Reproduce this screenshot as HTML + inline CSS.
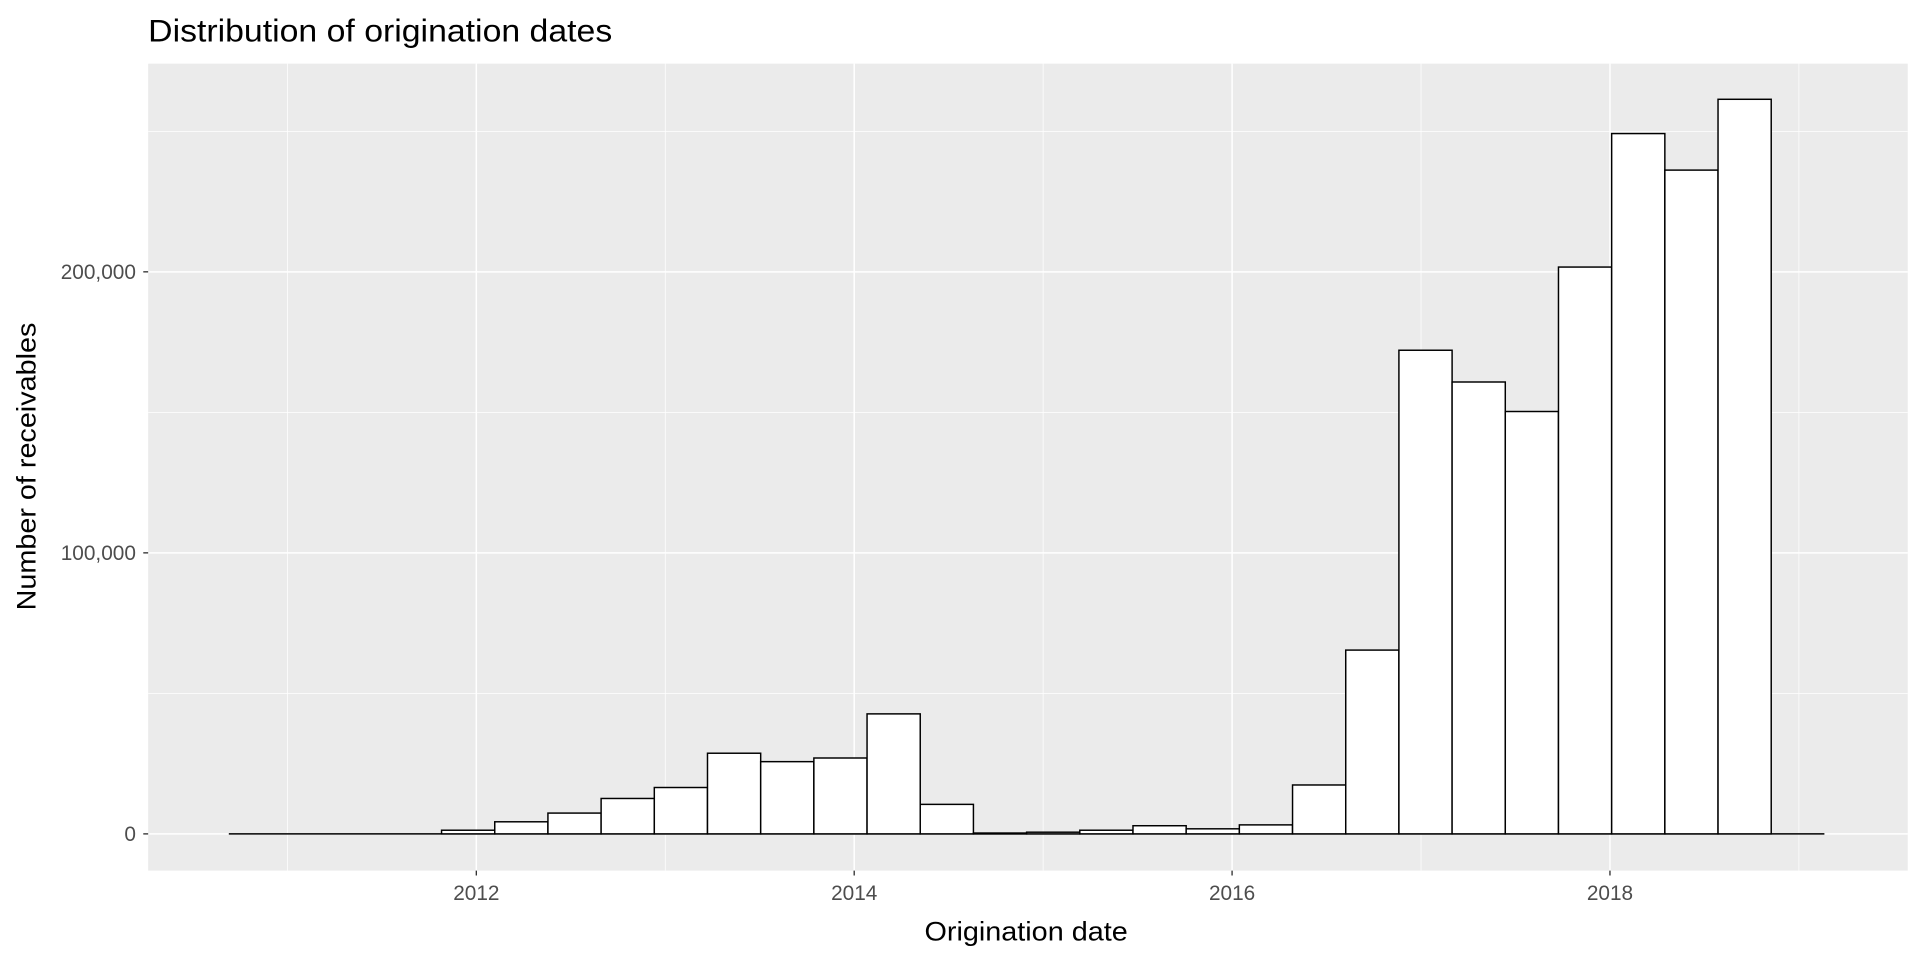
<!DOCTYPE html>
<html><head><meta charset="utf-8"><style>
html,body{margin:0;padding:0;background:#fff;}
svg{display:block;}
text{font-family:"Liberation Sans",Arial,sans-serif;}
</style></head><body>
<svg id="chart" width="1920" height="960" viewBox="0 0 1568 784" xmlns="http://www.w3.org/2000/svg">
<text x="121" y="34" font-size="26" textLength="379" lengthAdjust="spacingAndGlyphs" fill="#000">Distribution of origination dates</text>
<rect x="121" y="52" width="1437" height="659" fill="#EBEBEB"/>
<g id="grid"></g>
<g id="bars"></g>
<g id="axes"></g>
<text x="838" y="768" font-size="22" text-anchor="middle" textLength="166" lengthAdjust="spacingAndGlyphs" fill="#000">Origination date</text>
<text transform="translate(29,381) rotate(-90)" font-size="22" text-anchor="middle" textLength="235" lengthAdjust="spacingAndGlyphs" fill="#000">Number of receivables</text>
</svg>
<script>
const binStart = 2010.69;
const binWidth = 0.2815;
const counts = [0,0,0,0,1300,4300,7400,12600,16500,28700,25700,27000,42700,10500,300,600,1300,2900,1800,3200,17400,65400,172100,160800,150300,201700,249200,236200,261400,0];
const xMajor = [2012,2014,2016,2018];
const xMinor = [2011,2013,2015,2017,2019];
const yMajor = [0,100000,200000];
const yMinor = [50000,150000,250000];
const yLabels = ["0","100,000","200,000"];

const NS="http://www.w3.org/2000/svg";
const X = yr => 389 + (yr-2012)*154.3;
const Y = v => 681 - v*229.5/100000;
const grid=document.getElementById('grid'), bars=document.getElementById('bars'), axes=document.getElementById('axes');
function mk(tag,attrs,parent){const e=document.createElementNS(NS,tag);for(const k in attrs)e.setAttribute(k,attrs[k]);parent.appendChild(e);return e;}
xMinor.forEach(v=>{const l=mk('line',{x1:X(v),x2:X(v),y1:52,y2:711,stroke:'#fff','stroke-width':0.6},grid);

});
yMinor.forEach(v=>{const l=mk('line',{x1:121,x2:1558,y1:Y(v),y2:Y(v),stroke:'#fff','stroke-width':0.6},grid);

});
xMajor.forEach(v=>{const l=mk('line',{x1:X(v),x2:X(v),y1:52,y2:711,stroke:'#fff','stroke-width':1.2},grid);


const t=mk('line',{x1:X(v),x2:X(v),y1:711,y2:715,stroke:'#333','stroke-width':1.1},axes);


const tx=mk('text',{x:X(v),y:735,'font-size':17,'text-anchor':'middle',fill:'#4D4D4D'},axes);tx.textContent=v;

});
yMajor.forEach((v,i)=>{const l=mk('line',{x1:121,x2:1558,y1:Y(v),y2:Y(v),stroke:'#fff','stroke-width':1.2},grid);


const t=mk('line',{x1:117,x2:121,y1:Y(v),y2:Y(v),stroke:'#333','stroke-width':1.1},axes);


const tx=mk('text',{x:111,y:Y(v)+6,'font-size':17,'text-anchor':'end',fill:'#4D4D4D'},axes);tx.textContent=yLabels[i];

});
const base=mk('line',{x1:X(binStart),x2:X(binStart+counts.length*binWidth),y1:Y(0),y2:Y(0),stroke:'#000','stroke-width':1.3},bars);


counts.forEach((c,i)=>{const x0=X(binStart+i*binWidth),x1=X(binStart+(i+1)*binWidth);
const r=mk('rect',{x:x0,y:Y(c),width:x1-x0,height:Y(0)-Y(c),fill:'#fff',stroke:'#000','stroke-width':1.2},bars);

});
</script>
</body></html>
